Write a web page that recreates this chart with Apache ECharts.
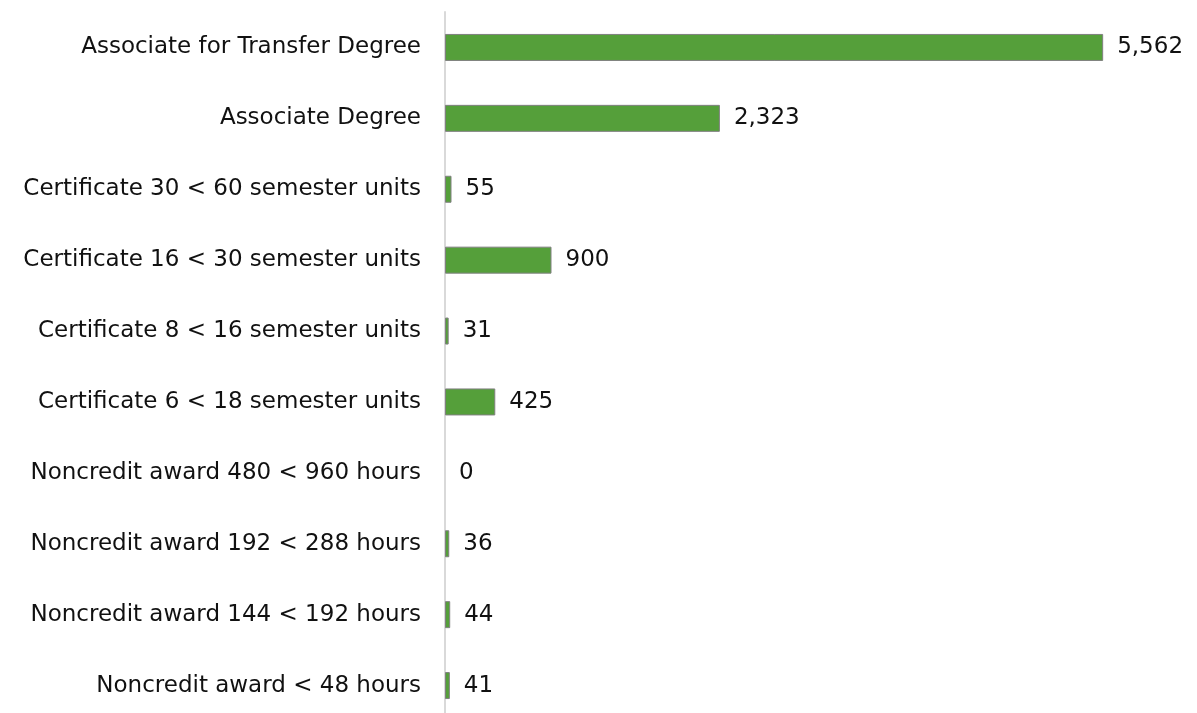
<!DOCTYPE html>
<html><head><meta charset="utf-8">
<script src="https://cdn.jsdelivr.net/npm/echarts@6/dist/echarts.min.js"></script>
<style>html,body{margin:0;padding:0;background:#fff;overflow:hidden;height:713px}#c{width:1197px;height:722px}</style>
</head><body><div id="c"></div>
<script>
const categories = [
  "Associate for Transfer Degree",
  "Associate Degree",
  "Certificate 30 < 60 semester units",
  "Certificate 16 < 30 semester units",
  "Certificate 8 < 16 semester units",
  "Certificate 6 < 18 semester units",
  "Noncredit award 480 < 960 hours",
  "Noncredit award 192 < 288 hours",
  "Noncredit award 144 < 192 hours",
  "Noncredit award < 48 hours"
];
const awards = [5562, 2323, 55, 900, 31, 425, 0, 36, 44, 41];

const chart = echarts.init(document.getElementById('c'));
const FONT = 'DejaVu Sans';
chart.setOption({
  animation: false,
  grid: { left: 445, width: 710, top: 12, height: 709 },
  xAxis: { type: 'value', min: 0, max: 6000, show: false },
  yAxis: {
    type: 'category', data: categories, inverse: true,
    axisLine: { show: true, lineStyle: { color: '#d9d9d9', width: 2 } },
    axisTick: { show: false },
    axisLabel: { color: '#111', fontSize: 23, fontFamily: FONT, margin: 24 }
  },
  series: [{
    type: 'bar',
    data: awards.map(v => v === 0 ? { value: v, itemStyle: { borderWidth: 0 } } : v),
    barWidth: 27,
    itemStyle: { color: '#559f3a', borderColor: '#808080', borderWidth: 1 },
    label: {
      show: true, position: 'right', distance: 14, color: '#111',
      fontSize: 23, fontFamily: FONT,
      formatter: p => p.value.toLocaleString('en-US')
    }
  }]
});
</script></body></html>
